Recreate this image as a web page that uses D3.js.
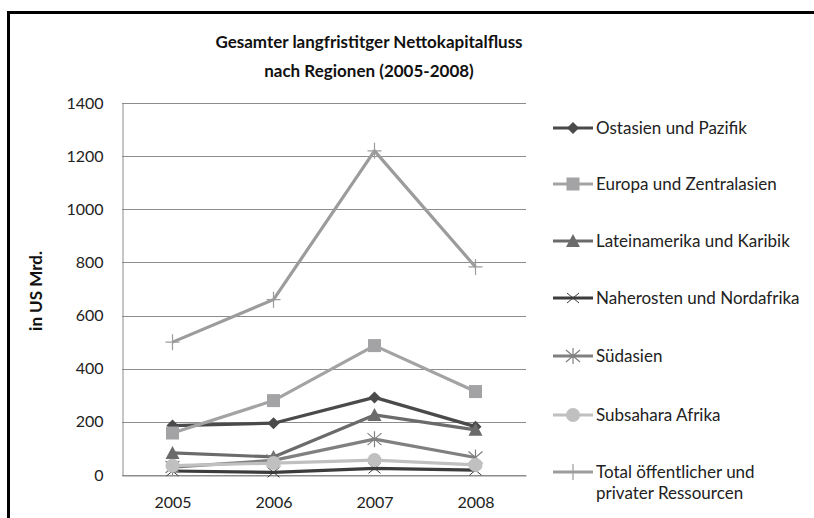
<!DOCTYPE html>
<meta charset="utf-8">
<script src="https://d3js.org/d3.v7.min.js"></script>
<style>
  body { margin: 0; background: #fff; }
  text { font-family: Lato, "Open Sans", sans-serif; }
</style>
<div id="chart"></div>

<script>

    const years = ["2005", "2006", "2007", "2008"];
    const yTicks = [0, 200, 400, 600, 800, 1000, 1200, 1400];

    const ostasien    = [186, 195, 292, 182];
    const europa      = [158, 280, 487, 314];
    const latein      = [83, 68, 226, 170];
    const naherosten  = [15, 10, 25, 18];
    const suedasien   = [30, 55, 135, 66];
    const subsahara   = [35, 45, 56, 38];
    const total       = [500, 660, 1220, 783];

    const seriesNames = [
        "Ostasien und Pazifik",
        "Europa und Zentralasien",
        "Lateinamerika und Karibik",
        "Naherosten und Nordafrika",
        "Südasien",
        "Subsahara Afrika",
        "Total öffentlicher und|privater Ressourcen"
    ];

    const series = [
        {name: seriesNames[0], values: ostasien,   color: "#4a4a4a", marker: "diamond"},
        {name: seriesNames[1], values: europa,     color: "#a3a3a5", marker: "square"},
        {name: seriesNames[2], values: latein,     color: "#6b6b6b", marker: "triangle"},
        {name: seriesNames[3], values: naherosten, color: "#3c3c3c", marker: "x"},
        {name: seriesNames[4], values: suedasien,  color: "#808080", marker: "star"},
        {name: seriesNames[5], values: subsahara,  color: "#c0c0c0", marker: "circle"},
        {name: seriesNames[6], values: total,      color: "#9c9c9c", marker: "plus"}
    ];

    const W = 814, H = 518;
    const plot = {left: 122, right: 526, top: 103, bottom: 475};

    const svg = d3.select("#chart")
        .append("svg")
        .attr("width", W)
        .attr("height", H);

    // frame
    svg.append("path")
        .attr("d", `M8.5,${H + 5} V12.5 H${W + 5}`)
        .attr("fill", "none")
        .attr("stroke", "#000")
        .attr("stroke-width", 3);

    const x = d3.scalePoint()
        .domain(years)
        .range([plot.left, plot.right])
        .padding(0.5);

    const y = d3.scaleLinear()
        .domain([0, 1400])
        .range([plot.bottom, plot.top]);

    // gridlines
    svg.append("g")
        .selectAll("line")
        .data(yTicks)
        .join("line")
        .attr("x1", plot.left)
        .attr("x2", plot.right)
        .attr("y1", d => Math.round(y(d)) + 0.5)
        .attr("y2", d => Math.round(y(d)) + 0.5)
        .attr("stroke", "#8c8c8c")
        .attr("stroke-width", 1);

    // y axis
    const yAxis = svg.append("g")
        .attr("transform", `translate(${plot.left + 0.5},0)`)
        .call(d3.axisLeft(y).tickValues(yTicks).tickFormat(d3.format("d")).tickSize(0).tickPadding(19));
    yAxis.select(".domain").attr("stroke", "#8c8c8c");
    yAxis.selectAll("text")
        .attr("font-size", 16)
        .attr("fill", "#222")
        .style("font-family", "Lato, sans-serif");

    // x axis
    const xAxis = svg.append("g")
        .attr("transform", `translate(0,${Math.round(plot.bottom) + 0.5})`)
        .call(d3.axisBottom(x).tickSize(0).tickPadding(21));
    xAxis.select(".domain").attr("stroke", "#8c8c8c");
    xAxis.selectAll("text")
        .attr("font-size", 16)
        .attr("fill", "#222")
        .style("font-family", "Lato, sans-serif");

    // titles
    const title = svg.append("text")
        .attr("text-anchor", "middle")
        .attr("font-size", 17)
        .attr("font-weight", "bold")
        .attr("fill", "#111");
    title.append("tspan").attr("x", 369).attr("y", 48).text("Gesamter langfristitger Nettokapitalfluss");
    title.append("tspan").attr("x", 369).attr("y", 77).text("nach Regionen (2005-2008)");

    svg.append("text")
        .attr("transform", "translate(42,291) rotate(-90)")
        .attr("text-anchor", "middle")
        .attr("font-size", 17)
        .attr("font-weight", "bold")
        .attr("fill", "#111")
        .text("in US Mrd.");

    function drawMarker(g, type, color) {
        if (type === "diamond") {
            g.append("path").attr("d", "M0,-6 L6,0 L0,6 L-6,0Z").attr("fill", color);
        } else if (type === "square") {
            g.append("rect").attr("x", -6.5).attr("y", -6.5).attr("width", 13).attr("height", 13).attr("fill", color);
        } else if (type === "triangle") {
            g.append("path").attr("d", "M0,-7 L7,6 L-7,6Z").attr("fill", color);
        } else if (type === "x") {
            g.append("path").attr("d", "M-6,-5 L6,5 M-6,5 L6,-5").attr("stroke", color).attr("stroke-width", 1);
        } else if (type === "star") {
            g.append("path").attr("d", "M-7,-6 L7,6 M-7,6 L7,-6 M0,-8 L0,8").attr("stroke", color).attr("stroke-width", 1.2);
        } else if (type === "circle") {
            g.append("circle").attr("r", 7).attr("fill", color);
        } else if (type === "plus") {
            g.append("path").attr("d", "M-7,0 L7,0 M0,-8 L0,8").attr("stroke", color).attr("stroke-width", 1.2);
        }
    }

    const line = d3.line()
        .x((d, i) => x(years[i]))
        .y(d => y(d));

    series.forEach(s => {
        const g = svg.append("g");
        g.append("path")
            .datum(s.values)
            .attr("d", line)
            .attr("fill", "none")
            .attr("stroke", s.color)
            .attr("stroke-width", 3.2)
            .attr("stroke-linejoin", "round");
        s.values.forEach((v, i) => {
            const m = g.append("g").attr("transform", `translate(${x(years[i])},${y(v)})`);
            drawMarker(m, s.marker, s.color);
        });
    });

    // legend
    const legendY = [128, 184, 241, 298, 356, 415, 472];
    const legend = svg.append("g");
    series.forEach((s, i) => {
        const g = legend.append("g").attr("transform", `translate(553,${legendY[i]})`);
        g.append("line")
            .attr("x1", 0).attr("x2", 40)
            .attr("stroke", s.color)
            .attr("stroke-width", 3.2);
        const m = g.append("g").attr("transform", "translate(20,0)");
        drawMarker(m, s.marker, s.color);
        const lines = s.name.split("|");
        const t = g.append("text")
            .attr("x", 43)
            .attr("y", 6)
            .attr("font-size", 17)
            .attr("fill", "#222");
        lines.forEach((l, j) => {
            t.append("tspan").attr("x", 43).attr("dy", j === 0 ? 0 : 21).text(l);
        });
    });

</script>
